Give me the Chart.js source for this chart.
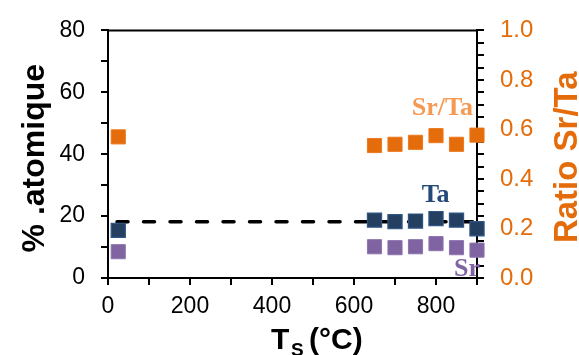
<!DOCTYPE html>
<html>
<head>
<meta charset="utf-8">
<script src="https://cdn.jsdelivr.net/npm/chart.js@4/dist/chart.umd.min.js"></script>
<style>
html,body{margin:0;padding:0;background:#fff;}
#wrap{width:579px;height:355px;position:relative;}
</style>
</head>
<body>
<div id="wrap"><canvas id="c" width="579" height="355"></canvas></div>
<script>
// ---- data ----
const temps = [25, 650, 700, 750, 800, 850, 900];
const taPct = [15.4, 18.7, 18.2, 18.4, 19.2, 18.7, 15.9];
const srPct = [8.5, 10.1, 9.8, 10.1, 11.1, 9.8, 9.0];
const srTaRatio = [0.57, 0.535, 0.54, 0.548, 0.575, 0.54, 0.577];
const refLineX = [22, 900];
const refLineY = [18.2, 18.2];
const xTickLabels = ['0', '200', '400', '600', '800'];
const leftTickLabels = ['0', '20', '40', '60', '80'];
const rightTickLabels = ['0.0', '0.2', '0.4', '0.6', '0.8', '1.0'];
const seriesLabels = ['Sr/Ta', 'Ta', 'Sr'];
const seriesLabelX = [741, 765, 844];
const seriesLabelY = [52.7, 24.5, 0.6];
const yTitle = '% .atomique';
const y2Title = 'Ratio Sr/Ta';
const xTitleMain = 'T';
const xTitleSub = 'S';
const xTitleUnit = '(°C)';

const ORANGE = '#E46C0A';
const ORANGE_LIGHT = '#F59A55';
const NAVY = '#253F60';
const NAVY_TXT = '#24497A';
const PURPLE = '#8064A2';

const pts = (xs, ys) => xs.map((x, i) => ({x, y: ys[i]}));

const overlay = {
  id: 'overlay',
  afterDraw(chart) {
    const ctx = chart.ctx;
    const a = chart.chartArea;
    const xs = chart.scales.x, ys = chart.scales.y;
    ctx.save();
    // top frame line
    ctx.strokeStyle = '#000';
    ctx.lineWidth = 2;
    ctx.beginPath();
    ctx.moveTo(a.left - 1, a.top);
    ctx.lineTo(a.right + 1, a.top);
    ctx.stroke();
    // series labels
    const cols = [ORANGE_LIGHT, NAVY_TXT, PURPLE];
    ctx.font = 'bold 26px "Liberation Serif"';
    ctx.textBaseline = 'alphabetic';
    ctx.textAlign = 'left';
    seriesLabels.forEach((t, i) => {
      ctx.fillStyle = cols[i];
      ctx.fillText(t, xs.getPixelForValue(seriesLabelX[i]), ys.getPixelForValue(seriesLabelY[i]));
    });
    // left title
    const cy = (a.top + a.bottom) / 2;
    ctx.save();
    ctx.translate(44, cy + 4);
    ctx.rotate(-Math.PI / 2);
    ctx.textAlign = 'center';
    ctx.fillStyle = '#000';
    ctx.font = 'bold 32px "Liberation Sans"';
    ctx.fillText(yTitle, 0, 0);
    ctx.restore();
    // right title
    ctx.save();
    ctx.translate(577, cy + 3);
    ctx.rotate(-Math.PI / 2);
    ctx.textAlign = 'center';
    ctx.fillStyle = ORANGE;
    ctx.font = 'bold 33px "Liberation Sans"';
    ctx.fillText(y2Title, 0, 0);
    ctx.restore();
    // x title
    ctx.fillStyle = '#000';
    ctx.textAlign = 'left';
    ctx.font = 'bold 30px "Liberation Sans"';
    ctx.fillText(xTitleMain, 271, 349);
    ctx.font = 'bold 19px "Liberation Sans"';
    ctx.fillText(xTitleSub, 291, 356);
    ctx.font = 'bold 30px "Liberation Sans"';
    ctx.fillText(xTitleUnit, 309, 349);
    ctx.restore();
  }
};

const labelEvery = (v, step, labels) => {
  const k = v / step;
  if (Math.abs(k - Math.round(k)) < 1e-6) {
    const idx = Math.round(k);
    return labels[idx] !== undefined ? labels[idx] : '';
  }
  return '';
};

const tickGrid = (color) => ({
  display: true,
  drawOnChartArea: false,
  drawTicks: true,
  tickLength: 7,
  tickWidth: 2,
  tickColor: color || '#000',
  lineWidth: 2,
  color: '#000'
});

new Chart(document.getElementById('c'), {
  type: 'scatter',
  data: {
    datasets: [
      {
        type: 'line',
        data: pts(refLineX, refLineY),
        yAxisID: 'y',
        borderColor: '#000',
        borderWidth: 3.5,
        borderDash: [11, 15.5],
        borderCapStyle: 'round',
        pointRadius: 0,
        fill: false,
        clip: false,
        order: 10
      },
      {
        data: pts(temps, srTaRatio),
        yAxisID: 'y2',
        pointStyle: 'rect',
        pointRadius: 10,
        backgroundColor: ORANGE,
        borderColor: '#EC7A22',
        borderWidth: 1,
        clip: false,
        order: 1
      },
      {
        data: pts(temps, taPct),
        yAxisID: 'y',
        pointStyle: 'rect',
        pointRadius: 10,
        backgroundColor: NAVY,
        borderColor: '#2E5585',
        borderWidth: 1.2,
        clip: false,
        order: 1
      },
      {
        data: pts(temps, srPct),
        yAxisID: 'y',
        pointStyle: 'rect',
        pointRadius: 10,
        backgroundColor: PURPLE,
        borderColor: '#8E74B0',
        borderWidth: 1,
        clip: false,
        order: 1
      }
    ]
  },
  plugins: [overlay],
  options: {
    responsive: false,
    animation: false,
    events: [],
    layout: { padding: { top: 23, left: 0, right: 0, bottom: 0 } },
    plugins: { legend: { display: false }, tooltip: { enabled: false } },
    scales: {
      x: {
        type: 'linear',
        position: 'bottom',
        min: 0, max: 900,
        afterFit(s) { s.height = 77; },
        border: { display: true, color: '#000', width: 2 },
        grid: tickGrid(),
        ticks: {
          stepSize: 100,
          autoSkip: false,
          maxRotation: 0,
          padding: 8,
          color: '#000',
          font: { family: '"Liberation Sans"', size: 23 },
          callback: (v) => labelEvery(v, 200, xTickLabels)
        }
      },
      y: {
        type: 'linear',
        position: 'left',
        min: 0, max: 80,
        afterFit(s) { s.width = 108; },
        border: { display: true, color: '#000', width: 2 },
        grid: tickGrid(),
        ticks: {
          stepSize: 10,
          autoSkip: false,
          padding: 16,
          color: '#000',
          font: { family: '"Liberation Sans"', size: 23 },
          callback: (v) => labelEvery(v, 20, leftTickLabels)
        }
      },
      y2: {
        type: 'linear',
        position: 'right',
        min: 0, max: 1,
        afterFit(s) { s.width = 102; },
        border: { display: true, color: '#000', width: 2 },
        grid: tickGrid(),
        ticks: {
          stepSize: 0.05,
          autoSkip: false,
          padding: 16,
          color: ORANGE,
          font: { family: '"Liberation Sans"', size: 24 },
          callback: (v) => labelEvery(v, 0.2, rightTickLabels)
        }
      }
    }
  }
});
</script>
</body>
</html>
